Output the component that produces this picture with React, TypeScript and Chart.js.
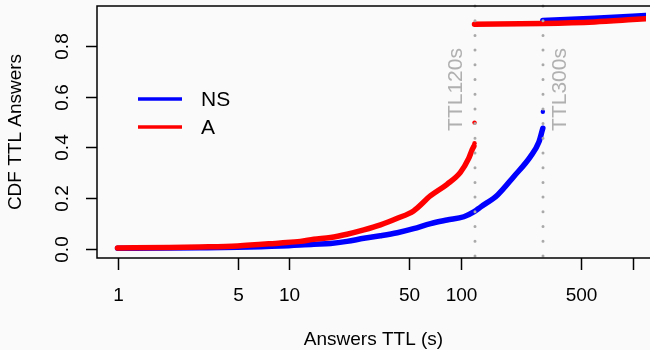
import React, { useEffect, useRef } from "react";
import { Chart, registerables } from "chart.js";

Chart.register(...registerables);

// ---- data ----
const NS_TTL_LOW = [1, 2, 3, 5, 8.9, 13.9, 17.4, 21.7, 27.2, 34, 42.6, 53, 66.6, 83, 104, 119.5, 130, 163.5, 203, 254, 285, 298, 300];
const NS_CDF_LOW = [0.003, 0.004, 0.005, 0.007, 0.012, 0.019, 0.022, 0.03, 0.042, 0.052, 0.064, 0.08, 0.1, 0.114, 0.127, 0.147, 0.165, 0.213, 0.285, 0.364, 0.423, 0.469, 0.476];
const NS_TTL_DOT = [300];
const NS_CDF_DOT = [0.541];
const NS_TTL_HIGH = [300, 600, 1000, 1300];
const NS_CDF_HIGH = [0.9, 0.909, 0.917, 0.922];

const A_TTL_LOW = [1, 2, 3, 5, 8.9, 11.6, 13.9, 17.4, 21.7, 27.2, 34, 42.6, 53, 66.6, 83, 99.3, 111, 116, 119];
const A_CDF_LOW = [0.004, 0.006, 0.008, 0.012, 0.024, 0.03, 0.038, 0.045, 0.058, 0.075, 0.095, 0.121, 0.15, 0.21, 0.255, 0.302, 0.357, 0.39, 0.405];
const A_TTL_DOT = [120, 120];
const A_CDF_DOT = [0.4166, 0.498];
const A_TTL_HIGH = [120, 300, 600, 1000, 1300];
const A_CDF_HIGH = [0.886, 0.889, 0.895, 0.904, 0.909];

const X_TICKS = [1, 5, 10, 50, 100, 500, 1000];
const X_TICK_LABELS = ["1", "5", "10", "50", "100", "500", ""];
const Y_TICKS = [0, 0.2, 0.4, 0.6, 0.8];
const Y_TICK_LABELS = ["0.0", "0.2", "0.4", "0.6", "0.8"];

const V_LINES = [120, 300];
const V_LINE_LABELS = ["TTL120s", "TTL300s"];

const LEGEND_LABELS = ["NS", "A"];
const SERIES_COLORS = ["#0000ff", "#ff0000"];

const X_TITLE = "Answers TTL (s)";
const Y_TITLE = "CDF TTL Answers";

const FONT = '"Liberation Sans", Arial, Helvetica, sans-serif';
const BG = "#fafafa";

const pts = (xs: number[], ys: number[]) => xs.map((x, i) => ({ x, y: ys[i] }));

const decor = {
  id: "decor",
  afterDatasetsDraw(chart: any) {
    const ctx: CanvasRenderingContext2D = chart.ctx;
    const xs = chart.scales.x;
    const ys = chart.scales.y;
    const a = chart.chartArea;
    const W = chart.width;
    ctx.save();
    // vertical dotted lines
    ctx.strokeStyle = "#a9a9a9";
    ctx.lineWidth = 3;
    ctx.lineCap = "round";
    ctx.setLineDash([0, 14.7]);
    V_LINES.forEach((v) => {
      const px = Math.round(xs.getPixelForValue(v));
      ctx.beginPath();
      ctx.moveTo(px, a.top);
      ctx.lineTo(px, a.bottom + 2);
      ctx.stroke();
    });
    ctx.setLineDash([]);
    // labels of vertical lines
    ctx.fillStyle = "#b0b0b0";
    ctx.font = `21px ${FONT}`;
    ctx.textAlign = "center";
    ctx.textBaseline = "middle";
    V_LINE_LABELS.forEach((t, i) => {
      const px = xs.getPixelForValue(V_LINES[i]);
      const off = i === 0 ? -18 : 17;
      ctx.save();
      ctx.translate(px + off, 89.5);
      ctx.rotate(-Math.PI / 2);
      ctx.fillText(t, 0, 0);
      ctx.restore();
    });

    // box (left, top, bottom)
    ctx.strokeStyle = "#000";
    ctx.lineWidth = 1.5;
    ctx.lineCap = "butt";
    ctx.beginPath();
    ctx.moveTo(W + 2, a.top);
    ctx.lineTo(a.left, a.top);
    ctx.lineTo(a.left, a.bottom);
    ctx.lineTo(W + 2, a.bottom);
    ctx.stroke();

    // x ticks
    ctx.fillStyle = "#000";
    ctx.font = `19px ${FONT}`;
    ctx.textAlign = "center";
    ctx.textBaseline = "middle";
    X_TICKS.forEach((v, i) => {
      const px = Math.round(xs.getPixelForValue(v)) + 0.5;
      ctx.beginPath();
      ctx.moveTo(px, a.bottom);
      ctx.lineTo(px, a.bottom + 12);
      ctx.stroke();
      ctx.fillText(X_TICK_LABELS[i], px, 296);
    });
    // y ticks
    Y_TICKS.forEach((v, i) => {
      const py = Math.round(ys.getPixelForValue(v)) + 0.5;
      ctx.beginPath();
      ctx.moveTo(a.left, py);
      ctx.lineTo(a.left - 11, py);
      ctx.stroke();
      ctx.save();
      ctx.translate(63, py);
      ctx.rotate(-Math.PI / 2);
      ctx.fillText(Y_TICK_LABELS[i], 0, 0);
      ctx.restore();
    });
    // titles
    ctx.fillText(X_TITLE, (a.left + W) / 2, 340);
    ctx.save();
    ctx.translate(16, (a.top + a.bottom) / 2);
    ctx.rotate(-Math.PI / 2);
    ctx.fillText(Y_TITLE, 0, 0);
    ctx.restore();

    // legend
    const ly = [99, 127];
    ctx.font = `21px ${FONT}`;
    ctx.textAlign = "left";
    LEGEND_LABELS.forEach((t, i) => {
      ctx.strokeStyle = SERIES_COLORS[i];
      ctx.lineWidth = 3.5;
      ctx.beginPath();
      ctx.moveTo(138, ly[i]);
      ctx.lineTo(182, ly[i]);
      ctx.stroke();
      ctx.fillStyle = "#000";
      ctx.fillText(t, 201, ly[i] + 1);
    });
    ctx.restore();
  },
};

const bgPlugin = {
  id: "bg",
  beforeDraw(chart: any) {
    const ctx = chart.ctx;
    ctx.save();
    ctx.fillStyle = BG;
    ctx.fillRect(0, 0, chart.width, chart.height);
    ctx.restore();
  },
};

export default function App() {
  const ref = useRef<HTMLCanvasElement | null>(null);
  useEffect(() => {
    document.body.style.margin = "0";
    document.body.style.background = BG;
    const line = (data: any, color: string, order: number) => ({
      data,
      showLine: true,
      borderColor: color,
      backgroundColor: color,
      borderWidth: 5.5,
      pointRadius: 0,
      cubicInterpolationMode: "monotone",
      borderCapStyle: "round",
      borderJoinStyle: "round",
      order,
    });
    const dots = (data: any, color: string, order: number) => ({
      data,
      showLine: false,
      borderColor: color,
      backgroundColor: color,
      borderWidth: 0,
      pointRadius: 2.2,
      order,
    });
    const chart = new Chart(ref.current as HTMLCanvasElement, {
      type: "scatter",
      data: {
        datasets: [
          line(pts(A_TTL_LOW, A_CDF_LOW), SERIES_COLORS[1], 0),
          dots(pts(A_TTL_DOT, A_CDF_DOT), SERIES_COLORS[1], 0),
          line(pts(A_TTL_HIGH, A_CDF_HIGH), SERIES_COLORS[1], 0),
          line(pts(NS_TTL_LOW, NS_CDF_LOW), SERIES_COLORS[0], 1),
          dots(pts(NS_TTL_DOT, NS_CDF_DOT), SERIES_COLORS[0], 1),
          line(pts(NS_TTL_HIGH, NS_CDF_HIGH), SERIES_COLORS[0], 1),
        ] as any,
      },
      options: {
        responsive: false,
        animation: false,
        layout: { padding: { left: 97, top: 6, right: 0, bottom: 92 } },
        plugins: { legend: { display: false }, tooltip: { enabled: false } },
        scales: {
          x: { type: "logarithmic", min: Math.pow(10, -0.1196), max: Math.pow(10, 3.078), display: false },
          y: { type: "linear", min: -0.0355, max: 0.9576, display: false },
        },
      },
      plugins: [bgPlugin, decor],
    });
    return () => chart.destroy();
  }, []);
  return <canvas ref={ref} width={650} height={350} style={{ display: "block" }} />;
}
